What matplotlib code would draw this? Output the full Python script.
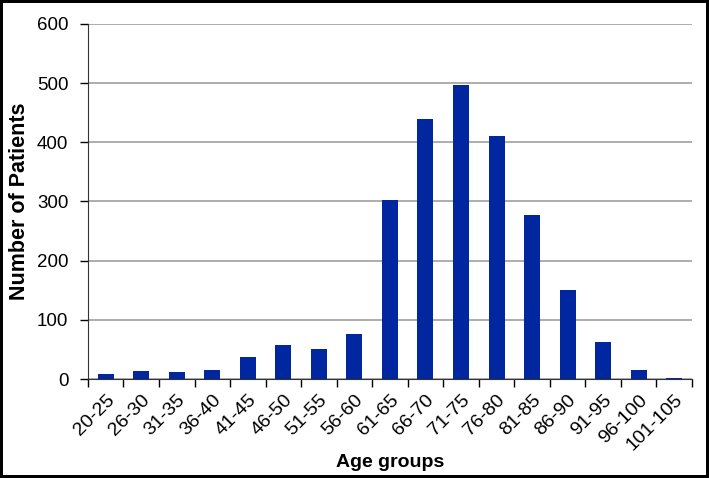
import numpy as np
import matplotlib.pyplot as plt

age_groups = ['20-25', '26-30', '31-35', '36-40', '41-45', '46-50', '51-55', '56-60',
              '61-65', '66-70', '71-75', '76-80', '81-85', '86-90', '91-95', '96-100', '101-105']
patients = [8, 13, 12, 16, 38, 58, 51, 76, 303, 440, 497, 411, 277, 151, 62, 16, 2]

plt.rcParams['font.family'] = ['Liberation Sans', 'DejaVu Sans']

fig = plt.figure(figsize=(7.09, 4.78), dpi=100)
fig.patch.set_edgecolor('black')
fig.patch.set_linewidth(3)
ax = fig.add_axes([0.124, 0.207, 0.852, 0.743])

x = np.arange(len(age_groups))
ax.bar(x, patients, width=0.45, color='#0027A0', zorder=3)

ax.set_xlim(-0.5, len(age_groups) - 0.5)
ax.set_ylim(0, 600)
ax.set_yticks(range(0, 601, 100))
ax.yaxis.grid(True, color='#A0A0A0', linewidth=1.2, zorder=0)

# ticks at category boundaries, labels at centres
ax.set_xticks(np.arange(-0.5, len(age_groups), 1.0))
ax.set_xticklabels([])
ax.set_xticks(x, minor=True)
ax.set_xticklabels(age_groups, minor=True, rotation=45, ha='right',
                   rotation_mode='anchor', fontsize=14)
ax.tick_params(axis='x', which='minor', length=0, pad=9)
ax.tick_params(axis='x', which='major', length=6, width=1)
ax.tick_params(axis='y', length=6, width=1, labelsize=13.5, pad=8)

for s in ['top', 'right']:
    ax.spines[s].set_visible(False)
ax.spines['left'].set_color('#333333')
ax.spines['bottom'].set_color('#333333')

ax.set_xlabel('Age groups', fontsize=14, fontweight='bold', labelpad=0)
ax.set_ylabel('Number of Patients', fontsize=15.5, fontweight='bold', labelpad=5)

fig.savefig('out.png', dpi=100, edgecolor=fig.get_edgecolor())
